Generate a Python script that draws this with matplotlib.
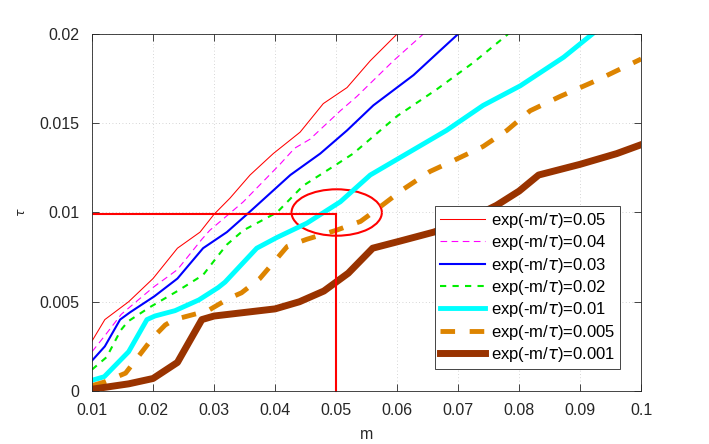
import matplotlib
matplotlib.use("Agg")
import matplotlib.pyplot as plt
from matplotlib.patches import Ellipse

plt.rcParams['font.family'] = ['Liberation Sans', 'DejaVu Sans']
plt.rcParams['mathtext.fontset'] = 'dejavusans'

# curve data (m, tau)
m_005 = [0.01, 0.0121, 0.016, 0.020, 0.024, 0.0277, 0.030, 0.0326, 0.0359, 0.0397, 0.0441, 0.0479, 0.0518, 0.0556, 0.060]
t_005 = [0.0028, 0.0040, 0.0050, 0.0063, 0.0080, 0.0089, 0.0099, 0.0108, 0.0121, 0.0133, 0.0145, 0.0161, 0.0170, 0.0185, 0.0200]

m_004 = [0.01, 0.0121, 0.0148, 0.020, 0.024, 0.028, 0.0293, 0.0348, 0.0408, 0.0432, 0.0457, 0.0507, 0.0534, 0.0594, 0.0643]
t_004 = [0.0022, 0.0031, 0.0043, 0.0058, 0.0068, 0.0085, 0.0090, 0.0106, 0.0127, 0.0136, 0.0141, 0.0157, 0.0165, 0.0185, 0.0200]

m_003 = [0.01, 0.0121, 0.0146, 0.0162, 0.0202, 0.024, 0.0282, 0.0321, 0.0354, 0.0425, 0.0474, 0.0518, 0.0561, 0.0627, 0.0665, 0.070]
t_003 = [0.0017, 0.0025, 0.0040, 0.0044, 0.0053, 0.0063, 0.0080, 0.0089, 0.0099, 0.0121, 0.0133, 0.0146, 0.0160, 0.0177, 0.0189, 0.0200]

m_002 = [0.01, 0.0124, 0.0147, 0.0159, 0.0195, 0.024, 0.0282, 0.0307, 0.0321, 0.0348, 0.0403, 0.0446, 0.0501, 0.0528, 0.060, 0.0665, 0.0725, 0.0782]
t_002 = [0.0012, 0.0019, 0.0034, 0.0039, 0.0047, 0.0056, 0.0065, 0.0076, 0.0082, 0.0090, 0.0100, 0.0115, 0.0127, 0.0133, 0.0154, 0.0169, 0.0184, 0.0200]

m_001 = [0.01, 0.012, 0.016, 0.019, 0.0203, 0.0236, 0.0275, 0.0307, 0.0318, 0.037, 0.0403, 0.0452, 0.0507, 0.0556, 0.0616, 0.0681, 0.0741, 0.0802, 0.0873, 0.092]
t_001 = [0.0006, 0.0008, 0.0022, 0.0040, 0.0042, 0.0045, 0.0051, 0.0058, 0.0061, 0.0080, 0.0086, 0.0094, 0.0106, 0.0121, 0.0133, 0.0146, 0.0160, 0.0171, 0.0187, 0.0200]

m_0005 = [0.01, 0.012, 0.0155, 0.020, 0.022, 0.0235, 0.029, 0.0325, 0.0345, 0.0375, 0.042, 0.0452, 0.050, 0.054, 0.056, 0.061, 0.0654, 0.0692, 0.0741, 0.078, 0.0818, 0.0867, 0.0927, 0.100]
t_0005 = [0.0003, 0.0005, 0.0010, 0.0030, 0.0037, 0.0040, 0.0045, 0.0052, 0.0055, 0.0063, 0.0081, 0.0085, 0.0090, 0.0095, 0.0100, 0.0113, 0.0123, 0.0129, 0.0137, 0.0146, 0.0157, 0.0165, 0.0174, 0.0186]

m_0001 = [0.01, 0.016, 0.020, 0.024, 0.028, 0.030, 0.040, 0.044, 0.048, 0.050, 0.052, 0.056, 0.0605, 0.066, 0.071, 0.0763, 0.080, 0.0832, 0.090, 0.096, 0.100]
t_0001 = [0.0001, 0.0004, 0.0007, 0.0016, 0.0040, 0.0042, 0.0046, 0.0050, 0.0056, 0.0061, 0.0066, 0.0080, 0.0084, 0.0089, 0.0095, 0.0104, 0.0112, 0.0121, 0.0127, 0.0133, 0.0138]

labels = ['0.05', '0.04', '0.03', '0.02', '0.01', '0.005', '0.001']

# marked point
m_mark = 0.05
t_mark = 0.0099

fig = plt.figure(figsize=(7.09, 4.44), dpi=100)
ax = fig.add_axes([0.1298, 0.1194, 0.7745, 0.804])

series = [
    (m_005, t_005, dict(color='#ff0000', lw=0.75, ls='-')),
    (m_004, t_004, dict(color='#ff00ff', lw=0.8, ls=(0, (6, 4)))),
    (m_003, t_003, dict(color='#0000ff', lw=1.5, ls='-')),
    (m_002, t_002, dict(color='#00ee00', lw=1.5, ls=(0, (3, 3)))),
    (m_001, t_001, dict(color='#00ffff', lw=3.5, ls='-')),
    (m_0005, t_0005, dict(color='#dd8400', lw=3.5, ls=(0, (3, 3)))),
    (m_0001, t_0001, dict(color='#993300', lw=5, ls='-')),
]
for (x, y, st), lab in zip(series, labels):
    ax.plot(x, y, label=r'exp(-m/$\tau$)=' + lab, **st)

ax.plot([0.01, m_mark], [t_mark, t_mark], color='#ff0000', lw=1.5)
ax.plot([m_mark, m_mark], [t_mark, 0], color='#ff0000', lw=1.5, clip_on=False)
ax.add_patch(Ellipse((0.0501, 0.01), 0.0148, 0.0026, fill=False,
                     edgecolor='#ff0000', lw=1.5))

ax.set_xlim(0.01, 0.1)
ax.set_ylim(0, 0.02)
ax.set_xticks([0.01, 0.02, 0.03, 0.04, 0.05, 0.06, 0.07, 0.08, 0.09, 0.1])
ax.set_xticklabels(['0.01', '0.02', '0.03', '0.04', '0.05', '0.06', '0.07', '0.08', '0.09', '0.1'])
ax.set_yticks([0, 0.005, 0.01, 0.015, 0.02])
ax.set_yticklabels(['0', '0.005', '0.01', '0.015', '0.02'])
ax.tick_params(direction='in', top=True, right=True, length=5, width=0.6,
               labelsize=11.5, colors='#262626', pad=9)
ax.tick_params(axis='x', pad=9)
ax.grid(True, linestyle=(0, (1, 3)), color='#c8c8c8', lw=0.6)
for s in ax.spines.values():
    s.set_color('#262626')
    s.set_linewidth(0.6)

ax.set_xlabel('m', fontsize=11.5, color='#262626', labelpad=6)
ax.set_ylabel(r'$\tau$', fontsize=9, color='#262626', labelpad=8)

leg = ax.legend(loc='lower left', bbox_to_anchor=(0.6135, 0.169, 0.261, 0.369),
                bbox_transform=fig.transFigure, mode='expand', fontsize=12,
                fancybox=False, framealpha=1, edgecolor='#262626',
                handlelength=2.7, handletextpad=0.35, labelspacing=0.2,
                borderpad=0.3, borderaxespad=0)
leg.get_frame().set_linewidth(0.6)

fig.savefig('out.png', dpi=100)
